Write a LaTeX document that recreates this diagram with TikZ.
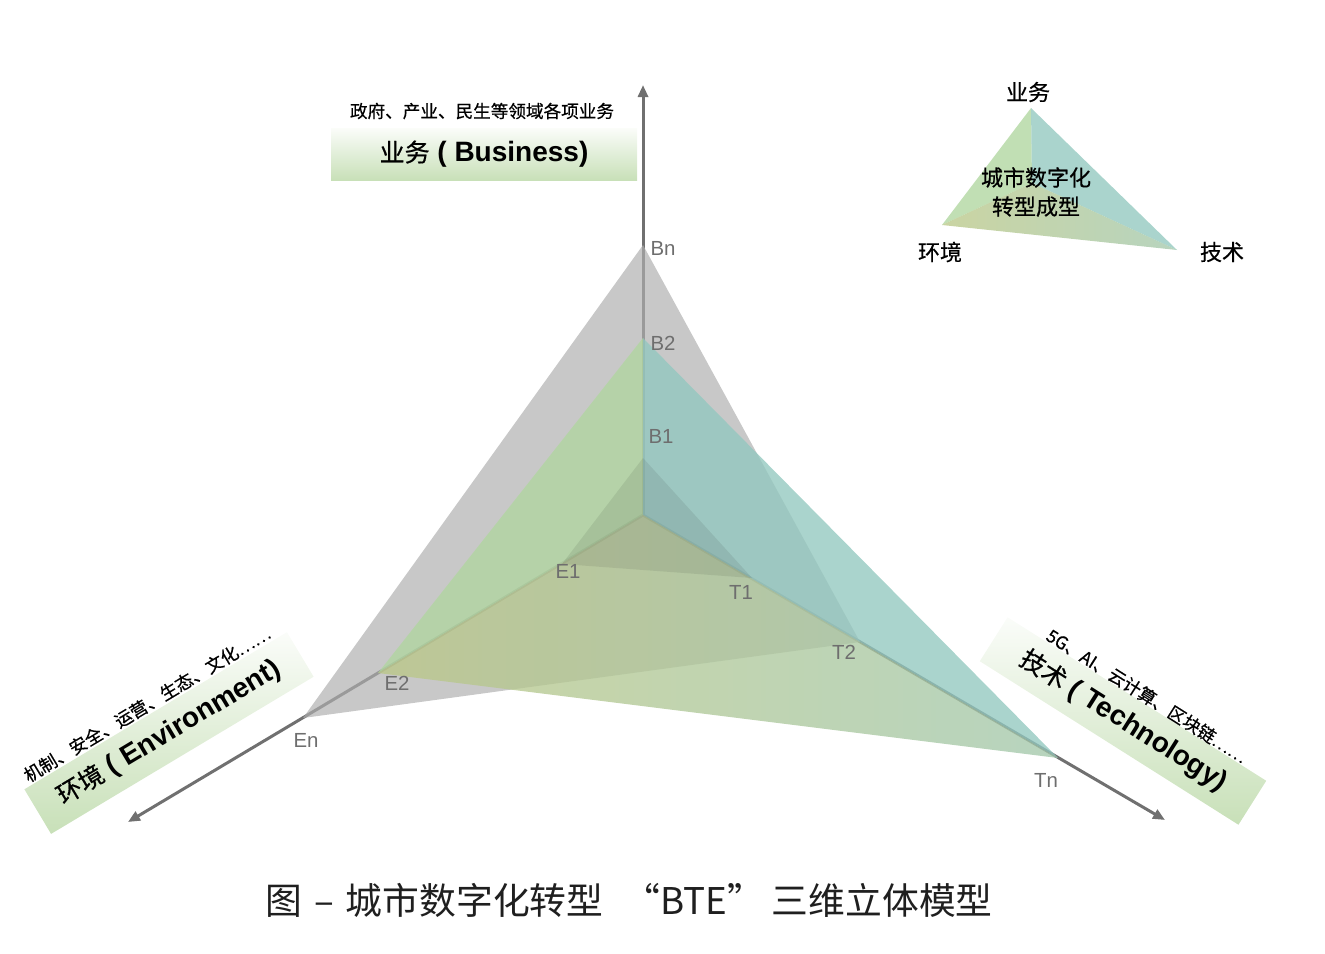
\documentclass[tikz,border=0pt]{standalone}
\usepackage{fontspec}
\setmainfont{Liberation Sans}
\newfontfamily\cjk{Noto Sans CJK SC}
\newfontfamily\cjkm{Noto Sans CJK SC}[FakeBold=0.6]
\usetikzlibrary{arrows.meta, positioning}

\definecolor{axiscol}{RGB}{112,112,112}
\definecolor{labelcol}{RGB}{110,110,110}
\definecolor{grayface}{RGB}{174,174,174}
\definecolor{faceL}{RGB}{176,214,159}
\definecolor{faceR}{RGB}{146,200,191}
\definecolor{faceBa}{RGB}{187,200,136}
\definecolor{faceBb}{RGB}{163,200,172}
\definecolor{boxgreen}{RGB}{200,224,184}

\newcommand{\axistitle}[2]{{\cjkm\fontsize{12.5}{16}\selectfont #1} \textbf{( #2)}}

\begin{document}
\begin{tikzpicture}[
  x=0.5pt, y=-0.5pt,
  axis/.style={draw=axiscol, line width=1.5pt, -{Triangle[length=6pt, width=5pt]}},
  ptlabel/.style={font=\fontsize{10.2}{12}\selectfont, text=labelcol, inner sep=0pt},
  outer/.style={fill=grayface, fill opacity=0.68},
  leftface/.style={fill=faceL, fill opacity=0.78},
  rightface/.style={fill=faceR, fill opacity=0.78},
  floorface/.style={left color=faceBa, right color=faceBb, fill opacity=0.78},
  inner/.style={fill=black, fill opacity=0.08},
  titlebox/.style={minimum width=153pt, minimum height=26pt, inner sep=0pt,
                   top color=boxgreen!8, bottom color=boxgreen},
  bigtext/.style={font=\fontsize{14}{16}\selectfont},
  smalltext/.style={font=\cjkm\fontsize{8.8}{10}\selectfont, inner sep=0pt},
  legtext/.style={font=\cjkm\fontsize{11}{14.5}\selectfont, align=center, inner sep=0pt},
]
\useasboundingbox (0,0) rectangle (1325,953);

\coordinate (O)    at (643,515);
\coordinate (Btip) at (643,85);
\coordinate (Etip) at (128,822);
\coordinate (Ttip) at (1165,820);
\coordinate (Bn) at (643,245);
\coordinate (B2) at (643,338);
\coordinate (B1) at (643,458);
\coordinate (En) at (303,718);
\coordinate (E2) at (378,673);
\coordinate (E1) at (562,564);
\coordinate (Tn) at (1058,758);
\coordinate (T2) at (860,642);
\coordinate (T1) at (752,578);

\draw[axis] (O) -- (Btip);
\draw[axis] (O) -- (Etip);
\draw[axis] (O) -- (Ttip);

\fill[outer] (Bn) -- (En) -- (T2) -- cycle;
\fill[leftface]  (O) -- (B2) -- (E2) -- cycle;
\fill[rightface] (O) -- (B2) -- (Tn) -- cycle;
\shade[floorface] (O) -- (E2) -- (Tn) -- cycle;
\fill[inner] (B1) -- (E1) -- (T1) -- cycle;

\node[ptlabel] (lBn) at (663,248) {Bn};
\node[ptlabel] (lB2) at (663,343) {B2};
\node[ptlabel] (lB1) at (661,436) {B1};
\node[ptlabel] (lE1) at (568,571) {E1};
\node[ptlabel] (lE2) at (397,683) {E2};
\node[ptlabel] (lEn) at (306,740) {En};
\node[ptlabel] (lT1) at (741,592) {T1};
\node[ptlabel] (lT2) at (844,652) {T2};
\node[ptlabel] (lTn) at (1046,780) {Tn};

\node[titlebox, bigtext] (bbox) at (484,154) {\axistitle{业务}{Business}};
\node[smalltext] (bdesc) at (482,111) {政府、产业、民生等领域各项业务};

\begin{scope}[shift={(169,733)}, rotate=30.9, transform shape]
  \node[titlebox, bigtext] (ebox) at (0,0) {\axistitle{环境}{Environment}};
  \node[smalltext] (edesc) at (-4,-36) {机制、安全、运营、生态、文化……};
\end{scope}

\begin{scope}[shift={(1123,721)}, rotate=-32.3, transform shape]
  \node[titlebox, bigtext] (tbox) at (0,0) {\axistitle{技术}{Technology}};
  \node[smalltext] (tdesc) at (7,-34) {5G、AI、云计算、区块链……};
\end{scope}

\coordinate (LA) at (1031,108);
\coordinate (LM) at (1032,183);
\coordinate (LL) at (942,225);
\coordinate (LR) at (1177,250);
\fill[leftface]  (LM) -- (LA) -- (LL) -- cycle;
\fill[rightface] (LM) -- (LA) -- (LR) -- cycle;
\shade[floorface] (LM) -- (LL) -- (LR) -- cycle;
\node[legtext] (legB) at (1028,92) {业务};
\node[legtext] (legE) at (940,252) {环境};
\node[legtext] (legT) at (1222,252) {技术};
\node[legtext] (legC) at (1036,192) {城市数字化\\转型成型};

\node[font=\cjk\fontsize{18.4}{20}\selectfont, text=black!88] (cap) at (629,900)
  {图\hspace{6pt}–\hspace{6pt}城市数字化转型\hspace{10pt}“BTE”\hspace{4pt}三维立体模型};
\end{tikzpicture}
\end{document}
